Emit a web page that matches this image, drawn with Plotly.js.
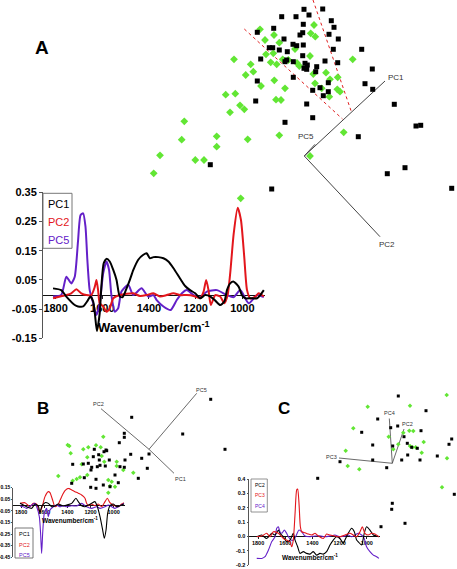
<!DOCTYPE html>
<html><head><meta charset="utf-8">
<script src="https://cdn.plot.ly/plotly-3.0.1.min.js"></script>
<style>html,body{margin:0;padding:0;background:#fff}</style>
</head><body><div id="chart" style="width:457px;height:569px"></div>
<script>
// ---------- Loading spectra (wavenumber / loading) ----------
// Panel A
const wnA_PC1 = [1811,1776,1754,1718,1704,1682,1665,1651,1639,1632,1623,1611,1604,1594,1582,1568,1553,1539,1525,1513,1499,1482,1467,1446,1424,1410,1396,1381,1360,1338,1317,1295,1267,1245,1224,1202,1181,1159,1137,1116,1095,1077,1066,1052,1037,1016,1002,987,966,937,923,908];
const A_PC1 = [0.021,0.015,-0.007,-0.036,-0.041,-0.041,-0.024,-0.007,-0.024,-0.064,-0.125,-0.064,0.027,0.107,0.122,0.113,0.084,0.050,-0.007,-0.009,0.015,0.050,0.084,0.119,0.136,0.141,0.124,0.128,0.128,0.124,0.113,0.090,0.055,0.029,0.015,0.004,-0.013,-0.002,-0.007,-0.021,-0.036,-0.024,0.015,0.038,0.044,0.027,-0.002,-0.013,-0.013,-0.013,-0.002,0.015];
const wnA_PC2 = [1811,1754,1733,1711,1690,1668,1647,1632,1625,1618,1611,1596,1582,1568,1553,1525,1467,1439,1410,1381,1353,1324,1295,1267,1238,1209,1181,1166,1155,1145,1135,1116,1095,1077,1063,1052,1037,1020,1006,992,980,966,944,930,908];
const A_PC2 = [-0.013,-0.002,0.004,0.018,0.004,-0.002,-0.002,0.027,0.050,0.015,-0.030,-0.041,-0.059,-0.047,-0.013,-0.002,0.004,-0.005,-0.002,0.004,-0.007,-0.002,0.004,-0.002,-0.002,-0.005,-0.013,0.010,0.050,0.015,-0.036,-0.002,-0.007,-0.030,-0.002,0.073,0.209,0.297,0.255,0.130,0.015,-0.013,-0.007,0.004,-0.007];
const wnA_PC5 = [1811,1776,1754,1733,1718,1704,1693,1682,1672,1664,1654,1639,1625,1611,1596,1582,1571,1561,1546,1532,1518,1489,1467,1432,1403,1381,1367,1338,1307,1281,1259,1238,1209,1181,1152,1109,1066,1037,1009,973,937,908];
const A_PC5 = [-0.007,-0.002,0.061,0.038,0.061,0.183,0.272,0.278,0.232,0.119,0.015,-0.030,-0.070,-0.030,0.073,0.113,0.084,-0.002,-0.059,-0.047,0.010,0.033,-0.002,0.021,-0.007,-0.002,-0.019,-0.041,-0.053,-0.019,0.004,0.015,-0.002,-0.009,0.010,0.015,-0.002,-0.009,0.015,-0.030,-0.002,-0.009];
// Panel B
const wnB_PC1 = [1810,1753,1709,1681,1652,1637,1623,1594,1565,1536,1508,1479,1436,1407,1363,1326,1306,1277,1248,1219,1190,1162,1141,1118,1095,1081,1066,1052,1032,1003,974,945,911];
const B_PC1 = [0.015,-0.014,-0.028,0.009,-0.008,-0.071,-0.014,0.021,0.015,-0.014,-0.008,0.009,-0.008,0.0,0.015,0.059,0.030,-0.005,-0.014,0.0,0.015,0.030,-0.014,-0.100,-0.215,-0.286,-0.215,-0.071,-0.005,0.009,-0.014,-0.005,0.009];
const wnB_PC2 = [1810,1767,1724,1695,1666,1643,1623,1594,1565,1551,1528,1508,1479,1450,1421,1392,1363,1335,1306,1277,1248,1234,1219,1190,1162,1133,1104,1075,1055,1032,1003,960,931,911];
const B_PC2 = [0.015,0.021,-0.014,0.015,0.009,-0.057,-0.028,0.073,0.116,0.107,0.044,-0.014,0.009,0.073,0.124,0.144,0.130,0.116,0.102,0.087,0.059,0.015,-0.005,0.009,-0.005,0.009,-0.014,0.030,0.059,0.021,0.0,-0.014,0.009,0.021];
const wnB_PC5 = [1810,1782,1753,1709,1681,1666,1643,1632,1623,1614,1600,1580,1565,1551,1522,1493,1464,1436,1407,1363,1320,1277,1234,1190,1147,1118,1075,1046,1017,989,960,911];
const B_PC5 = [-0.008,-0.014,-0.028,0.0,0.015,-0.014,-0.100,-0.243,-0.416,-0.243,-0.071,-0.028,-0.100,-0.043,-0.014,0.0,-0.014,-0.005,-0.014,-0.005,-0.008,0.015,-0.014,-0.028,-0.014,-0.028,-0.014,0.0,-0.014,-0.028,-0.014,0.015];
// Panel C
const wnC_PC2 = [1810,1773,1737,1700,1675,1651,1639,1614,1590,1565,1541,1528,1509,1492,1467,1443,1418,1394,1369,1345,1320,1296,1271,1247,1222,1198,1173,1161,1137,1112,1092,1075,1063,1038,1019,1002,977,952,928,911];
const C_PC2 = [-0.003,0.009,-0.015,0.021,0.009,0.044,0.021,-0.003,-0.038,-0.026,0.021,-0.026,-0.073,-0.119,-0.107,-0.119,-0.124,-0.107,-0.131,-0.119,-0.124,-0.107,-0.061,-0.026,-0.003,-0.015,-0.049,-0.026,0.021,0.056,0.032,-0.026,-0.038,-0.061,0.021,0.067,0.044,0.009,0.002,-0.003];
const wnC_PC3 = [1810,1773,1737,1712,1688,1651,1614,1590,1565,1553,1541,1528,1516,1509,1499,1489,1479,1455,1430,1406,1381,1357,1320,1296,1271,1235,1198,1161,1124,1100,1075,1050,1033,1014,989,965,940,911];
const C_PC3 = [-0.003,0.002,0.021,-0.003,0.032,0.021,-0.015,-0.026,-0.038,-0.073,-0.026,0.160,0.325,0.330,0.230,0.067,0.032,0.025,0.016,0.009,0.021,0.002,-0.015,0.016,0.009,0.002,-0.003,0.009,0.021,0.009,-0.003,0.032,0.067,0.021,0.009,0.021,0.016,-0.003];
const wnC_PC4 = [1810,1773,1749,1724,1700,1675,1663,1651,1639,1626,1607,1590,1577,1558,1541,1524,1499,1479,1455,1418,1381,1345,1308,1271,1235,1198,1161,1137,1112,1087,1063,1038,1019,1002,977,952,928,911];
const C_PC4 = [-0.154,-0.154,-0.142,-0.096,-0.038,-0.003,0.056,0.067,0.032,0.021,0.044,0.021,-0.003,-0.026,-0.026,-0.003,0.044,0.032,0.002,-0.003,0.002,0.004,-0.003,0.002,0.009,-0.003,0.002,0.009,-0.003,0.009,0.021,0.009,-0.015,-0.073,-0.107,-0.131,-0.142,-0.154];

const wnTicks = [1800,1600,1400,1200,1000];

// ---------- Score plots (figure-frame score coordinates) ----------
const A_blackX = [281.7,296,304,309,322.7,331.3,334,303.3,273.7,257.3,302.7,300,329,338.3,284,293,296.7,303.3,269.3,272.7,279.3,287.3,333.3,302.7,286.7,285,293.3,260.7,325,337.7,305,307.3,316.7,304,306.7,315.7,293.3,257.3,328.3,320,312.7,328.3,323.3,255.7,306.7,361.7,372.3,365,372.7,312.7,285,394.3,416,420.7,358.3,210.3,387.3,405,271.7,451.7];
const A_blackY = [16.7,16.7,9.3,15,9,20.7,27.3,24.3,28.3,32.3,32.7,35,34.3,39,39,44.3,45.7,45,47.7,47.7,50,51.7,49.3,55.7,60,61.7,61.7,59,61,62.7,63.3,65,66.7,68.3,69.3,71.7,77.3,81,82.7,87.7,90.3,91.7,95.7,101,104,49.3,69,83.7,89.3,117.7,122.3,104.3,126,125.3,136.7,164.7,173.7,167.7,189,188.3];
const A_greenX = [260,274,314,310.7,315.3,265,279.3,234,250.7,253.3,245.7,266,273.3,270.7,276.7,282.7,288.3,299.3,310,352.7,326,313.3,337.7,330,274.3,261,285,315,321.7,337.3,340,329.3,225.7,235.3,240,244.3,230,276,281,184.3,181.7,216.7,216.7,247.7,279.3,343.7,310,160,195.3,204,153.7,240.7,295,297];
const A_greenY = [29.3,35,25,33.3,36.7,40,42.7,59.3,64.3,71.7,75,54.3,53.3,62.3,64.3,59.3,60,66,56,59.3,72.7,74,77.3,79.3,80.3,86,88.3,83.3,88.3,89.3,91.7,96.7,94.7,93.7,105.3,109.3,112.3,99.7,100,121.3,139.7,136.3,146.7,139.3,135.3,132.3,156,155.3,160,160,173.3,198.3,49,63];
const B_blackX = [210.7,131.7,182.7,225,124.3,124.3,119.3,106,104,106.7,94.3,130.7,141.7,149,125,120,124.3,147.3,115,138.3,118.3,72.7,88.3,83.3,91.7,99.3,97.3,100,105.3,91,84.3,96,71.7,90.7,96,103.3,110,93.3,98.7,109.3];
const B_blackY = [399.3,417.3,434,449.3,433.3,437.3,442.7,450,451.7,450.7,449.3,454.3,458.3,454,460,466.7,467.3,468.3,475,478.3,482.7,464.3,463.3,464,467.3,460,466.7,465.3,466,470,477.7,479.3,483.3,487.3,488.3,485,486.7,456.7,454.7,460];
const B_greenX = [103.3,67.7,69.3,83.3,88.3,96,100.7,70.7,87.3,101.7,104.3,116.7,123.3,133.3,81.7,58.3,80,76.7,72.7,87.3,108.3,111.7,110,115,108.3,116.7];
const B_greenY = [436.7,445,446,449.3,447.3,445.3,447.3,453.3,457.3,456,461.7,461.7,470,472.7,464.3,476,477.3,479,480.7,475,480,481.7,486,486.7,492.7,466];
const C_blackX = [398.3,426,377.7,361.7,397.7,390.7,404,421,407.3,417.3,372.7,372.7,386.7,392.7,401.7,407.7,420,437.3,449,451.7,340,317.7,392.3,391.7,405,381,454.3,411.7];
const C_blackY = [396,410.7,419,432.3,426,427.7,436.7,430.7,443.3,448.3,445,460,467.7,446,460,455,460,456,444.3,439,461.7,478.3,503.3,509.3,523.3,526.7,494.3,447.3];
const C_greenX = [367.7,410,446.7,353.3,409.3,413.3,403.3,388.7,423.7,398.3,393.3,410,412.3,415.7,421.7,345.7,347.7,359.3,447,442];
const C_greenY = [406.7,405.7,395,428.3,430.7,431,432.7,436.7,442,444.3,449.3,446,447.3,447.3,452.7,450.7,466,469.3,458.3,487.3];

// Biplot loading vectors: origin and vector tips
const biA = {origin:[304.3,156], names:['PC1','PC2','PC5'], tipX:[385,380,315], tipY:[81,236.7,144.3], labX:[395.7,387.3,306], labY:[77.3,244.3,136.7]};
const biB = {origin:[149,449.3], names:['PC2','PC1','PC5'], tipX:[101,174,196.7], tipY:[408.7,473.3,393.3], labX:[98,180.5,201.7], labY:[403.5,478.5,390]};
const biC = {origin:[392.3,463.3], names:['PC3','PC4','PC2'], tipX:[339,389.3,404], tipY:[458,418.5,429], labX:[331,389,407.5], labY:[456.7,413.3,424.2]};
const sectorA_X = [[244.3,342.5],[313,351.3]];
const sectorA_Y = [[29,119],[0,111.5]];

// ---------- Styling ----------
const FONT = 'Liberation Sans, Arial, Helvetica, sans-serif';
const BLACK = '#000000', RED = '#e3161c', PURPLE = '#6420c8', GREEN = '#62e634', GRAY = '#444444';

const traces = [];
function vec(bi, w){
  bi.names.forEach((n,i)=>{
    traces.push({x:[bi.origin[0], bi.tipX[i]], y:[bi.origin[1], bi.tipY[i]], xaxis:'x', yaxis:'y', mode:'lines', line:{color:GRAY, width:w}, hoverinfo:'skip'});
  });
}
function pts(x,y,sym,size,color){
  traces.push({x:x, y:y, xaxis:'x', yaxis:'y', mode:'markers', marker:{symbol:sym, size:size, color:color, line:{width:0}}, hoverinfo:'skip'});
}
// Panel A scores
sectorA_X.forEach((sx,i)=>traces.push({x:sx, y:sectorA_Y[i], xaxis:'x', yaxis:'y', mode:'lines', line:{color:'#e02020', width:1, dash:'dot'}, hoverinfo:'skip'}));
vec(biA, 1);
pts(A_greenX, A_greenY, 'diamond', 6, GREEN);
pts(A_blackX, A_blackY, 'square', 5, BLACK);
// Panel B scores
vec(biB, 0.8);
pts(B_greenX, B_greenY, 'diamond', 3.5, GREEN);
pts(B_blackX, B_blackY, 'square', 3, BLACK);
// Panel C scores
vec(biC, 0.8);
pts(C_greenX, C_greenY, 'diamond', 3.5, GREEN);
pts(C_blackX, C_blackY, 'square', 3, BLACK);

function spec(x,y,ax,color,w){
  traces.push({x:x, y:y, xaxis:'x'+ax, yaxis:'y'+ax, mode:'lines', line:{color:color, width:w, shape:'spline', smoothing:0.6}, hoverinfo:'skip'});
}
spec(wnA_PC5, A_PC5, 2, PURPLE, 2);
spec(wnA_PC2, A_PC2, 2, RED, 2);
spec(wnA_PC1, A_PC1, 2, BLACK, 2);
spec(wnB_PC2, B_PC2, 3, RED, 1.1);
spec(wnB_PC5, B_PC5, 3, PURPLE, 1.1);
spec(wnB_PC1, B_PC1, 3, BLACK, 1.1);
spec(wnC_PC4, C_PC4, 4, PURPLE, 1.1);
spec(wnC_PC2, C_PC2, 4, BLACK, 1.1);
spec(wnC_PC3, C_PC3, 4, RED, 1.1);

const W = 457, H = 569;
function yAxis(topPx, botPx, range, vals, text, size, tl, standoff){
  return {domain:[(H-botPx)/H, (H-topPx)/H], range:range, tickmode:'array', tickvals:vals, ticktext:text,
    ticks:'outside', ticklen:tl, tickwidth:1, tickcolor:'#555', showline:true, linecolor:'#555', linewidth:1,
    ticklabelstandoff:standoff,
    showgrid:false, zeroline:false, fixedrange:true, tickfont:{family:FONT, size:size, color:'#000', weight:'bold'}};
}
function xAxis(leftPx, rightPx, range, zeroPx, size, tl){
  return {domain:[leftPx/W, rightPx/W], range:range, anchor:'free', position:(H-zeroPx)/H, tickmode:'array',
    tickvals:wnTicks, ticktext:wnTicks.map(String), ticks:'outside', ticklen:tl, tickwidth:1, tickcolor:'#222',
    showline:true, linecolor:'#111', linewidth:1, showgrid:false, zeroline:false, fixedrange:true, layer:'below traces',
    tickfont:{family:FONT, size:size, color:'#000', weight:'bold'}};
}

const annotations = [];
function ann(x,y,text,size,color,extra){
  annotations.push(Object.assign({x:x, y:y, xref:'x', yref:'y', text:text, showarrow:false,
    font:{family:FONT, size:size, color:color}, xanchor:'center', yanchor:'middle'}, extra||{}));
}
ann(42, 47, '<b>A</b>', 19, '#000');
ann(42.5, 408, '<b>B</b>', 17, '#000');
ann(284, 408, '<b>C</b>', 17, '#000');
biA.names.forEach((n,i)=>ann(biA.labX[i], biA.labY[i], n, 8, '#333'));
biB.names.forEach((n,i)=>ann(biB.labX[i], biB.labY[i], n, 5.5, '#333'));
biC.names.forEach((n,i)=>ann(biC.labX[i], biC.labY[i], n, 5.5, '#333'));
// legends
[['PC1',BLACK,204],['PC2',RED,222.3],['PC5',PURPLE,240]].forEach(l=>ann(46, l[2], l[0], 11, l[1], {xanchor:'left'}));
[['PC1',BLACK,534],['PC2',RED,545],['PC5',PURPLE,555]].forEach(l=>ann(17, l[2], l[0], 5.5, l[1], {xanchor:'left'}));
[['PC2',BLACK,485],['PC3',RED,495],['PC4',PURPLE,505.7]].forEach(l=>ann(253, l[2], l[0], 5, l[1], {xanchor:'left'}));
// axis titles
ann(153.5, 326.7, '<b>Wavenumber/cm<sup>-1</sup></b>', 13, '#000');
ann(69.7, 520, '<b>Wavenumber/cm<sup>-1</sup></b>', 6.5, '#000');
ann(310, 557, '<b>Wavenumber/cm<sup>-1</sup></b>', 6.5, '#000');

const shapes = [
  {type:'rect', xref:'x', yref:'y', x0:43, x1:72, y0:193.3, y1:248.3, line:{color:'#777', width:1}},
  {type:'rect', xref:'x', yref:'y', x0:15, x1:33, y0:528, y1:558, line:{color:'#555', width:0.8}},
  {type:'rect', xref:'x', yref:'y', x0:251, x1:267.3, y0:479, y1:512, line:{color:'#777', width:0.8}}
];

const layout = {
  width:W, height:H, margin:{l:0,r:0,t:0,b:0}, paper_bgcolor:'#fff', plot_bgcolor:'rgba(0,0,0,0)', showlegend:false,
  xaxis:{domain:[0,1], range:[0,W], visible:false, fixedrange:true},
  yaxis:{domain:[0,1], range:[H,0], visible:false, fixedrange:true},
  xaxis2: xAxis(43, 265, [1854, 903], 294.5, 11, 3),
  yaxis2: Object.assign(yAxis(192.3, 338.3, [-0.15,0.35], [-0.15,-0.05,0.05,0.15,0.25,0.35], ['-0.15','-0.05','0.05','0.15','0.25','0.35'], 11, 3, 0), {anchor:'x2'}),
  xaxis3: xAxis(13.3, 125, [1868, 902], 505.1, 5.5, 1.5),
  yaxis3: Object.assign(yAxis(487.7, 557.3, [-0.45,0.15], [-0.45,-0.35,-0.25,-0.15,-0.05,0.05,0.15], ['-0.45','-0.35','-0.25','-0.15','-0.05','0.05','0.15'], 5, 1, -1.5), {anchor:'x3'}),
  xaxis4: xAxis(249, 380, [1867, 903], 536.3, 5.5, 1.5),
  yaxis4: Object.assign(yAxis(479, 565, [-0.2,0.4], [-0.2,-0.1,0,0.1,0.2,0.3,0.4], ['-0.2','-0.1','0.0','0.1','0.2','0.3','0.4'], 5.5, 1.5, 0), {anchor:'x4'}),
  annotations:annotations, shapes:shapes
};
Plotly.newPlot('chart', traces, layout, {displayModeBar:false, staticPlot:true});
</script></body></html>
